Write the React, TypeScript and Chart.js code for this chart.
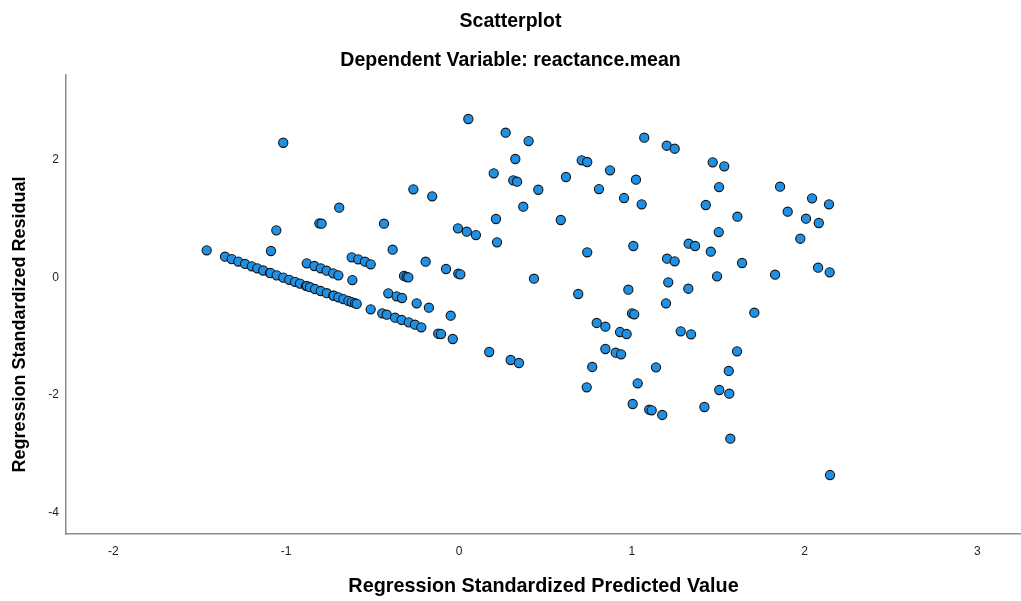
import React, { useEffect, useRef } from 'react';
import { Chart, registerables } from 'chart.js';

Chart.register(...registerables);

// Regression Standardized Predicted Value (x) for each case
const predicted: number[] = [
  -1.46, -1.017, -1.057, -1.088, -0.693, -0.808, -0.795, -0.434, -0.264, -0.155,
  -0.006, 0.045, 0.098, -0.384, -0.621, -0.583, -0.544, -0.511, -0.193,
  -0.881, -0.837, -0.8, -0.766, -0.728, -0.698, -0.075, -0.004, 0.008,
  -0.318, -0.303, -0.293, -0.617,
  -1.354, -1.315, -1.277, -1.238, -1.199, -1.167, -1.133, -1.094, -1.09, -1.055,
  -1.017, -0.982, -0.949, -0.92, -0.885, -0.88, -0.862, -0.833, -0.8, -0.765,
  -0.727, -0.725, -0.698, -0.669, -0.64, -0.621, -0.602, -0.592,
  -0.409, -0.361, -0.33, -0.245, -0.174, -0.048,
  -0.511, -0.444, -0.418, -0.37, -0.332, -0.291, -0.255, -0.218, -0.12, -0.104, -0.036,
  0.175, 0.299, 0.347,
  0.054, 0.27, 0.403, 0.326, 1.072, 1.202, 1.248, 0.71, 0.742, 0.201,
  0.314, 0.336, 0.874, 0.619, 1.024, 0.459, 0.81, 0.955, 1.057, 0.372,
  0.214, 0.589, 0.22, 1.009, 0.742, 1.204, 0.434, 0.69, 0.98, 1.211, 1.198,
  0.797, 0.847, 1.001, 1.014, 0.932, 0.97, 0.847, 0.907, 0.938, 0.771,
  1.14, 0.739, 1.034, 1.005, 1.101, 1.115, 1.176,
  1.468, 1.535, 1.505, 1.858, 2.043, 2.141, 1.428, 1.902, 1.611, 2.008,
  2.082, 1.503, 1.975, 1.329, 1.366, 1.457, 1.248, 1.638, 2.078, 2.145,
  1.493, 1.829, 1.327, 1.709, 1.283, 1.343, 1.609, 1.561, 1.506, 1.564,
  1.42, 1.57, 2.147,
];

// Regression Standardized Residual (y) for each case
const residual: number[] = [
  0.463, 2.294, 0.803, 0.451, 1.188, 0.923, 0.916, 0.916, 1.501, 1.382,
  0.837, 0.78, 0.723, 0.473, 0.344, 0.31, 0.269, 0.225, 0.269,
  0.242, 0.196, 0.157, 0.116, 0.071, 0.037, 0.145, 0.065, 0.054,
  0.026, 0.009, 0.003, -0.043,
  0.354, 0.313, 0.272, 0.231, 0.191, 0.157, 0.119, 0.078, 0.074, 0.037,
  -0.002, -0.039, -0.073, -0.104, -0.141, -0.146, -0.165, -0.196, -0.23, -0.267,
  -0.307, -0.31, -0.337, -0.368, -0.398, -0.419, -0.437, -0.449,
  -0.269, -0.32, -0.349, -0.439, -0.514, -0.65,
  -0.541, -0.609, -0.633, -0.684, -0.723, -0.763, -0.803, -0.848, -0.957, -0.962, -1.047,
  -1.268, -1.404, -1.455,
  2.698, 2.465, 2.323, 2.017, 2.38, 2.243, 2.192, 1.995, 1.966, 1.774,
  1.654, 1.631, 1.825, 1.711, 1.665, 1.494, 1.506, 1.353, 1.246, 1.205,
  0.996, 0.979, 0.599, 0.536, 0.429, 0.32, -0.02, -0.281, -0.208, -0.082, -0.439,
  -0.774, -0.837, -0.609, -0.626, -0.928, -0.962, -1.217, -1.28, -1.307, -1.523,
  -1.529, -1.869, -1.801, -2.153, -2.25, -2.26, -2.34,
  1.961, 1.893, 1.54, 1.546, 1.348, 1.246, 1.234, 1.12, 1.035, 1.001,
  0.928, 0.774, 0.66, 0.575, 0.536, 0.439, 0.276, 0.247, 0.167, 0.089,
  0.02, 0.048, -0.191, -0.599, -0.916, -0.967, -1.256, -1.591, -1.915, -1.978,
  -2.204, -2.744, -3.362,
];

const xTickValues = [-2, -1, 0, 1, 2, 3];
const yTickValues = [-4, -2, 0, 2];

const chartTitle = 'Scatterplot';
const chartSubtitle = 'Dependent Variable: reactance.mean';
const xAxisTitle = 'Regression Standardized Predicted Value';
const yAxisTitle = 'Regression Standardized Residual';

const FONT = '"Liberation Sans", Arial, Helvetica, sans-serif';

export default function App() {
  const canvasRef = useRef<HTMLCanvasElement | null>(null);

  useEffect(() => {
    if (!canvasRef.current) return;
    const points = predicted.map((x, i) => ({ x, y: residual[i] }));

    const yTitlePlugin = {
      id: 'yAxisTitleSpss',
      afterDraw(chart: any) {
        const { ctx, chartArea } = chart;
        ctx.save();
        ctx.translate(20, (chartArea.top + chartArea.bottom) / 2 + 20);
        ctx.rotate(-Math.PI / 2);
        ctx.font = `bold 18px ${FONT}`;
        ctx.fillStyle = '#000000';
        ctx.textAlign = 'center';
        ctx.textBaseline = 'middle';
        ctx.fillText(yAxisTitle, 0, 0);
        ctx.restore();
      },
    };

    const chart = new Chart(canvasRef.current, {
      type: 'scatter',
      data: {
        datasets: [
          {
            data: points,
            backgroundColor: '#1e90e6',
            borderColor: '#151515',
            borderWidth: 1.1,
            pointRadius: 4.6,
            pointHoverRadius: 4.6,
          },
        ],
      },
      options: {
        animation: false,
        responsive: false,
        devicePixelRatio: 1,
        layout: { padding: 0, autoPadding: false },
        plugins: {
          legend: { display: false },
          tooltip: { enabled: false },
          title: {
            display: true,
            text: chartTitle,
            color: '#000000',
            font: { family: FONT, size: 19.5, weight: 'bold', lineHeight: 1.2 },
            padding: { top: 9.8, bottom: 0 },
          },
          subtitle: {
            display: true,
            text: chartSubtitle,
            color: '#000000',
            font: { family: FONT, size: 19.5, weight: 'bold', lineHeight: 1.2 },
            padding: { top: 16.1, bottom: 2.3 },
          },
        },
        scales: {
          x: {
            type: 'linear',
            min: -2.274,
            max: 3.252,
            afterBuildTicks: (scale: any) => {
              scale.ticks = xTickValues.map((v) => ({ value: v }));
            },
            afterFit: (scale: any) => {
              scale.height = 67;
              scale.paddingLeft = 0;
              scale.paddingRight = 0;
            },
            grid: { display: false, drawTicks: false },
            border: { display: true, color: '#8c8c8c', width: 1.5 },
            ticks: {
              color: '#222222',
              padding: 10,
              font: { family: FONT, size: 12 },
              maxRotation: 0,
              includeBounds: false,
            },
            title: {
              display: true,
              text: xAxisTitle,
              color: '#000000',
              font: { family: FONT, size: 19.8, weight: 'bold', lineHeight: 1.2 },
              padding: { top: 0, bottom: 3 },
            },
          },
          y: {
            type: 'linear',
            min: -4.366,
            max: 3.447,
            afterBuildTicks: (scale: any) => {
              scale.ticks = yTickValues.map((v) => ({ value: v }));
            },
            afterFit: (scale: any) => {
              scale.width = 66;
              scale.paddingTop = 0;
              scale.paddingBottom = 0;
            },
            grid: { display: false, drawTicks: false },
            border: { display: true, color: '#8c8c8c', width: 1.5 },
            ticks: {
              color: '#222222',
              padding: 7,
              font: { family: FONT, size: 12 },
              includeBounds: false,
            },
            title: { display: false, text: yAxisTitle },
          },
        },
      },
      plugins: [yTitlePlugin],
    });

    return () => {
      chart.destroy();
    };
  }, []);

  return (
    <div
      style={{
        position: 'fixed',
        left: 0,
        top: 0,
        width: 1021,
        height: 601,
        background: '#ffffff',
      }}
    >
      <canvas ref={canvasRef} width={1021} height={601} style={{ width: 1021, height: 601 }} />
    </div>
  );
}
